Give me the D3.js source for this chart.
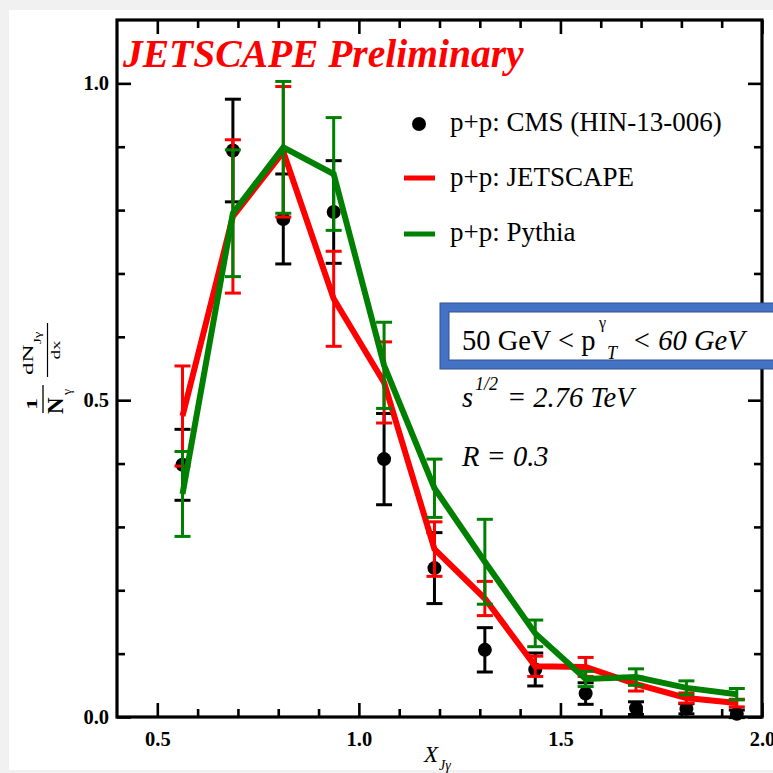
<!DOCTYPE html>
<html><head><meta charset="utf-8">
<script src="https://cdn.jsdelivr.net/npm/d3@7"></script>
<style>
html,body{margin:0;padding:0;background:#f1f1f1;}
svg{display:block;}
</style></head><body>
<svg id="c" width="773" height="773"></svg>
<script>
// ---- data ----
const xBins = [0.5625, 0.6875, 0.8125, 0.9375, 1.0625, 1.1875, 1.3125, 1.4375, 1.5625, 1.6875, 1.8125, 1.9375];
const cmsY   = [0.398, 0.894, 0.786, 0.797, 0.407, 0.235, 0.106, 0.075, 0.037, 0.014, 0.013, 0.005];
const cmsErr = [0.056, 0.081, 0.071, 0.081, 0.072, 0.056, 0.035, 0.026, 0.017, 0.010, 0.008, 0.006];
const jsY    = [0.475, 0.790, 0.892, 0.660, 0.528, 0.265, 0.187, 0.080, 0.079, 0.052, 0.030, 0.022];
const jsErr  = [0.079, 0.121, 0.103, 0.075, 0.064, 0.043, 0.027, 0.016, 0.015, 0.011, 0.008, 0.006];
const pyY    = [0.352, 0.795, 0.899, 0.857, 0.555, 0.361, 0.245, 0.132, 0.060, 0.063, 0.046, 0.036];
const pyErr  = [0.067, 0.100, 0.104, 0.089, 0.068, 0.046, 0.067, 0.021, 0.012, 0.013, 0.011, 0.009];
const xMajor = [0.5, 1.0, 1.5, 2.0];
const xMinor = [0.6, 0.7, 0.8, 0.9, 1.1, 1.2, 1.3, 1.4, 1.6, 1.7, 1.8, 1.9];
const yMajor = [0.0, 0.5, 1.0];
const yMinor = [0.1, 0.2, 0.3, 0.4, 0.6, 0.7, 0.8, 0.9];
const legendLabels = ["p+p: CMS (HIN-13-006)", "p+p: JETSCAPE", "p+p: Pythia"];

const FONT = "'Liberation Serif','Times New Roman',Times,serif";
const svg = d3.select("#c");
svg.append("rect").attr("x", 9).attr("y", 10).attr("width", 764).attr("height", 760).attr("fill", "#fff");

const M = {l: 117, t: 20, r: 762, b: 717};
const x = d3.scaleLinear().domain([0.4, 2.0]).range([M.l, M.r]);
const y = d3.scaleLinear().domain([0, 1.1]).range([M.b, M.t]);

function styleAxis(g) {
  g.select(".domain").remove();
  g.selectAll(".tick line").attr("stroke", "#000").attr("stroke-width", 2.6);
  g.selectAll("text").attr("font-family", FONT).attr("font-size", 20.5).attr("font-weight", "bold").attr("fill", "#000");
}
// bottom
svg.append("g").attr("transform", `translate(0,${M.b})`)
  .call(d3.axisBottom(x).tickValues(xMajor).tickSize(-14).tickPadding(14).tickFormat(d3.format(".1f"))).call(styleAxis);
svg.append("g").attr("transform", `translate(0,${M.b})`)
  .call(d3.axisBottom(x).tickValues(xMinor).tickSize(-8).tickFormat("")).call(styleAxis);
// top
svg.append("g").attr("transform", `translate(0,${M.t})`)
  .call(d3.axisTop(x).tickValues(xMajor).tickSize(-14).tickFormat("")).call(styleAxis);
svg.append("g").attr("transform", `translate(0,${M.t})`)
  .call(d3.axisTop(x).tickValues(xMinor).tickSize(-8).tickFormat("")).call(styleAxis);
// left
svg.append("g").attr("transform", `translate(${M.l},0)`)
  .call(d3.axisLeft(y).tickValues(yMajor).tickSize(-14).tickPadding(8).tickFormat(d3.format(".1f"))).call(styleAxis);
svg.append("g").attr("transform", `translate(${M.l},0)`)
  .call(d3.axisLeft(y).tickValues(yMinor).tickSize(-8).tickFormat("")).call(styleAxis);
// right
svg.append("g").attr("transform", `translate(${M.r},0)`)
  .call(d3.axisRight(y).tickValues(yMajor).tickSize(-14).tickFormat("")).call(styleAxis);
svg.append("g").attr("transform", `translate(${M.r},0)`)
  .call(d3.axisRight(y).tickValues(yMinor).tickSize(-8).tickFormat("")).call(styleAxis);

// frame
svg.append("rect").attr("x", M.l).attr("y", M.t).attr("width", M.r - M.l).attr("height", M.b - M.t)
  .attr("fill", "none").attr("stroke", "#000").attr("stroke-width", 3.2);

// title
svg.append("text").attr("x", 123).attr("y", 67).attr("font-family", FONT).attr("font-size", 39.5)
  .attr("font-weight", "bold").attr("font-style", "italic").attr("fill", "#ff0000").text("JETSCAPE Preliminary");

// error bars helper
const CAP = 8;
function errorBars(vals, errs, color, sw) {
  const g = svg.append("g").attr("stroke", color).attr("stroke-width", sw).attr("fill", "none");
  xBins.forEach((xv, i) => {
    const cx = x(xv), y1 = y(vals[i] + errs[i]), y0 = y(vals[i] - errs[i]);
    g.append("line").attr("x1", cx).attr("x2", cx).attr("y1", y1).attr("y2", y0);
    g.append("line").attr("x1", cx - CAP).attr("x2", cx + CAP).attr("y1", y1).attr("y2", y1);
    g.append("line").attr("x1", cx - CAP).attr("x2", cx + CAP).attr("y1", y0).attr("y2", y0);
  });
}
const line = d3.line().x(d => x(d[0])).y(d => y(d[1]));

// CMS data
errorBars(cmsY, cmsErr, "#000", 3);
svg.append("g").selectAll("circle").data(xBins).join("circle")
  .attr("cx", d => x(d)).attr("cy", (d, i) => y(cmsY[i])).attr("r", 7).attr("fill", "#000");

// JETSCAPE
errorBars(jsY, jsErr, "#ff0000", 3);
svg.append("path").attr("d", line(xBins.map((d, i) => [d, jsY[i]])))
  .attr("fill", "none").attr("stroke", "#ff0000").attr("stroke-width", 6).attr("stroke-linejoin", "miter");

// Pythia
errorBars(pyY, pyErr, "#008000", 3);
svg.append("path").attr("d", line(xBins.map((d, i) => [d, pyY[i]])))
  .attr("fill", "none").attr("stroke", "#008000").attr("stroke-width", 6).attr("stroke-linejoin", "miter");

// legend
const lg = svg.append("g").attr("font-family", FONT).attr("font-size", 27).attr("fill", "#000");
lg.append("circle").attr("cx", 419).attr("cy", 124).attr("r", 7).attr("fill", "#000");
lg.append("line").attr("x1", 404).attr("x2", 435).attr("y1", 178).attr("y2", 178).attr("stroke", "#ff0000").attr("stroke-width", 5);
lg.append("line").attr("x1", 404).attr("x2", 435).attr("y1", 234).attr("y2", 234).attr("stroke", "#008000").attr("stroke-width", 5);
[131, 186, 241].forEach((by, i) => lg.append("text").attr("x", 450).attr("y", by).text(legendLabels[i]));

// info box
const bx = svg.append("g");
bx.append("rect").attr("x", 444.5).attr("y", 307.5).attr("width", 340).attr("height", 57)
  .attr("fill", "#fff").attr("stroke", "#4472c4").attr("stroke-width", 9);
bx.append("rect").attr("x", 440).attr("y", 303).attr("width", 349).attr("height", 66)
  .attr("fill", "none").attr("stroke", "#2f528f").attr("stroke-width", 1);
bx.append("rect").attr("x", 449).attr("y", 312).attr("width", 331).attr("height", 48)
  .attr("fill", "none").attr("stroke", "#2f528f").attr("stroke-width", 1);
const t1 = bx.append("text").attr("y", 350).attr("font-family", FONT).attr("font-size", 28.5).attr("fill", "#000");
t1.append("tspan").attr("x", 462).text("50 GeV < p");
t1.append("tspan").attr("x", 599).attr("y", 328).attr("font-size", 16).text("γ");
t1.append("tspan").attr("x", 607).attr("y", 359).attr("font-size", 18).attr("font-style", "italic").text("T");
t1.append("tspan").attr("x", 632).attr("y", 350).attr("font-style", "italic").text("< 60 GeV");

const t2 = svg.append("text").attr("y", 407).attr("font-family", FONT).attr("font-size", 28.5)
  .attr("font-style", "italic").attr("fill", "#000");
t2.append("tspan").attr("x", 462).text("s");
t2.append("tspan").attr("x", 475).attr("y", 390).attr("font-size", 18).text("1/2");
t2.append("tspan").attr("x", 507).attr("y", 407).text("= 2.76 TeV");

svg.append("text").attr("x", 462).attr("y", 466).attr("font-family", FONT).attr("font-size", 28.5)
  .attr("font-style", "italic").attr("fill", "#000").text("R = 0.3");

// x axis label
const xl = svg.append("text").attr("x", 424).attr("y", 762).attr("font-family", FONT).attr("font-size", 23)
  .attr("font-style", "italic").attr("fill", "#000");
xl.append("tspan").text("X");
xl.append("tspan").attr("font-size", 14).attr("dy", 8).attr("dx", 1).text("Jγ");

// y axis label (rotated fraction)
function rot(txt, sx, sy, size, weight, anchor, sc) {
  return svg.append("text").attr("transform", `translate(${sx},${sy}) rotate(-90) scale(1,${sc})`)
    .attr("font-family", FONT).attr("font-size", size).attr("font-weight", weight)
    .attr("text-anchor", anchor).attr("fill", "#000").text(txt);
}
rot("1", 37, 404, 24, "bold", "middle", 0.62);
svg.append("line").attr("x1", 43).attr("x2", 43).attr("y1", 385).attr("y2", 413).attr("stroke", "#000").attr("stroke-width", 1.3);
rot("N", 63, 414, 23, "bold", "start", 1.0);
rot("γ", 71, 395, 14, "normal", "start", 0.9);
rot("dN", 33, 375, 25, "normal", "start", 0.62);
rot("Jγ", 41, 344, 15, "normal", "start", 0.75);
svg.append("line").attr("x1", 47.5).attr("x2", 47.5).attr("y1", 323).attr("y2", 377).attr("stroke", "#000").attr("stroke-width", 1.2);
rot("dx", 60, 350, 19, "normal", "middle", 0.62);
</script>
</body></html>
